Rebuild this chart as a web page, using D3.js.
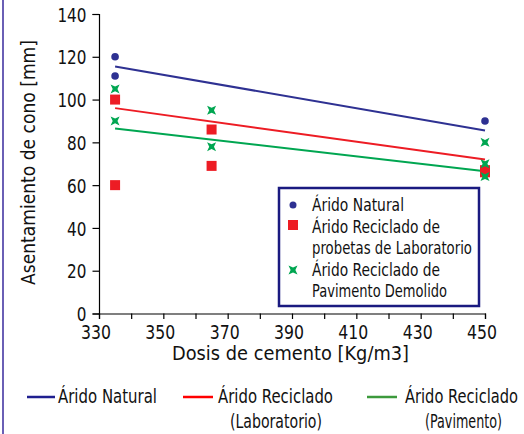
<!DOCTYPE html>
<html><head><meta charset="utf-8">
<script src="https://cdn.jsdelivr.net/npm/d3@7/dist/d3.min.js"></script>
<style>body{margin:0;background:#fff}svg{display:block}</style>
</head><body>
<svg id="c" width="524" height="434"></svg>
<script>
// ---- data ----
const natX = [335, 335, 450];
const natY = [120, 111, 90];
const labX = [335, 335, 365, 365, 450, 450];
const labY = [100, 60, 86, 69, 67, 66];
const pavX = [335, 335, 365, 365, 450, 450, 450];
const pavY = [105, 90, 95, 78, 80, 70, 64];
const trendX = [335, 450];
const natTrend = [115.5, 85.5];
const labTrend = [96, 72];
const pavTrend = [86.5, 66.5];
const xTicks = [330, 340, 350, 360, 370, 380, 390, 400, 410, 420, 430, 440, 450];
const xTickLabels = [330, 350, 370, 390, 410, 430, 450];
const yTicks = [0, 20, 40, 60, 80, 100, 120, 140];
const plotLegend = ["Árido Natural", "Árido Reciclado de", "probetas de Laboratorio", "Árido Reciclado de", "Pavimento Demolido"];
const bottomLegend = [["Árido Natural"], ["Árido Reciclado", "(Laboratorio)"], ["Árido Reciclado", "(Pavimento)"]];

const FONT = "'DejaVu Sans',sans-serif";
const C_BLUE = "#2e3192", C_RED = "#ed1c24", C_GREEN = "#00a651";

// squeeze text horizontally to a target width (narrow Futura-like look)
function fit(sel, w) {
  sel.attr("textLength", w).attr("lengthAdjust", "spacingAndGlyphs");
  return sel;
}

const svg = d3.select("#c");
svg.append("line").attr("x1", 3).attr("x2", 3).attr("y1", 0).attr("y2", 434)
  .attr("stroke", "#6a5fb5").attr("stroke-width", 2);

const x = d3.scaleLinear().domain([330, 450]).range([99, 485]);
const y = d3.scaleLinear().domain([0, 140]).range([313.5, 14]);

const gx = svg.append("g").attr("transform", `translate(0,${y(0)})`)
  .call(d3.axisBottom(x).tickValues(xTicks).tickSize(5.5).tickPadding(0)
    .tickFormat(d => xTickLabels.includes(d) ? d : ""));
const gy = svg.append("g").attr("transform", `translate(${x(330)},0)`)
  .call(d3.axisLeft(y).tickValues(yTicks).tickSize(6.5).tickPadding(6));
[gx, gy].forEach(g => {
  g.select(".domain").attr("stroke", "#000").attr("stroke-width", 1.2);
  g.selectAll(".tick line").attr("stroke", "#000").attr("stroke-width", 1.2);
  g.selectAll("text").attr("font-family", FONT).attr("font-size", 20).attr("fill", "#111");
});
gx.selectAll(".tick text").attr("dy", null).attr("y", 25).attr("x", -3.5)
  .each(function () { const n = this.textContent.length; if (n) fit(d3.select(this), n * 10); });
gy.selectAll(".tick text").attr("dy", "0.36em")
  .each(function () { const n = this.textContent.length; fit(d3.select(this), n * 9.7); });

fit(svg.append("text").attr("x", 290.5).attr("y", 360).attr("text-anchor", "middle")
  .attr("font-family", FONT).attr("font-size", 20).attr("fill", "#111").text("Dosis de cemento [Kg/m3]"), 237);
fit(svg.append("text").attr("transform", "translate(35,162.5) rotate(-90)").attr("text-anchor", "middle")
  .attr("font-family", FONT).attr("font-size", 20).attr("fill", "#111").text("Asentamiento de cono [mm]"), 245);

// trend lines
const line = d3.line().x(d => x(d[0])).y(d => y(d[1]));
[[natTrend, C_BLUE], [labTrend, C_RED], [pavTrend, C_GREEN]].forEach(([t, c]) => {
  svg.append("path").datum(trendX.map((v, i) => [v, t[i]])).attr("d", line)
    .attr("fill", "none").attr("stroke", c).attr("stroke-width", 2);
});

const starPath = "M-4.5,-4.5L0,-2.4L4.5,-4.5L2.4,0L4.5,4.5L0,2.4L-4.5,4.5L-2.4,0Z";

svg.append("g").selectAll("rect").data(labX.map((v, i) => [v, labY[i]])).join("rect")
  .attr("x", d => x(d[0]) - 5).attr("y", d => y(d[1]) - 5).attr("width", 10).attr("height", 10).attr("fill", C_RED);
svg.append("g").selectAll("path").data(pavX.map((v, i) => [v, pavY[i]])).join("path")
  .attr("transform", d => `translate(${x(d[0])},${y(d[1])})`).attr("d", starPath).attr("fill", C_GREEN);
svg.append("g").selectAll("circle").data(natX.map((v, i) => [v, natY[i]])).join("circle")
  .attr("cx", d => x(d[0])).attr("cy", d => y(d[1])).attr("r", 3.8).attr("fill", C_BLUE);

// plot legend
const lg = svg.append("g");
lg.append("rect").attr("x", 279).attr("y", 188).attr("width", 200).attr("height", 118)
  .attr("fill", "#fff").attr("stroke", "#1a1a80").attr("stroke-width", 2.5);
const lineY = [211, 233, 254, 276, 297];
const legW = [92, 128, 160, 128, 135];
plotLegend.forEach((t, i) => {
  fit(lg.append("text").attr("x", 312).attr("y", lineY[i]).attr("font-family", FONT).attr("font-size", 17.5)
    .attr("fill", "#111").text(t), legW[i]);
});
lg.append("circle").attr("cx", 293).attr("cy", 205).attr("r", 3.5).attr("fill", C_BLUE);
lg.append("rect").attr("x", 288).attr("y", 220).attr("width", 10).attr("height", 10).attr("fill", C_RED);
lg.append("path").attr("transform", "translate(293,270)").attr("d", starPath).attr("fill", C_GREEN);

// bottom legend
const bl = svg.append("g");
const blLine = [[27, 55], [183, 213], [367, 397]];
const blText = [[[58, 99]], [[218, 115], [230, 92]], [[405, 113], [425, 77]]];
const blColors = ["#1f1f8f", "#ff0000", "#3c9a3c"];
bottomLegend.forEach((lines, i) => {
  bl.append("line").attr("x1", blLine[i][0]).attr("x2", blLine[i][1]).attr("y1", 397).attr("y2", 397)
    .attr("stroke", blColors[i]).attr("stroke-width", 2.5);
  lines.forEach((t, j) => {
    fit(bl.append("text").attr("x", blText[i][j][0]).attr("y", 403 + j * 25)
      .attr("font-family", FONT).attr("font-size", 20).attr("fill", "#111").text(t), blText[i][j][1]);
  });
});
</script>
</body></html>
